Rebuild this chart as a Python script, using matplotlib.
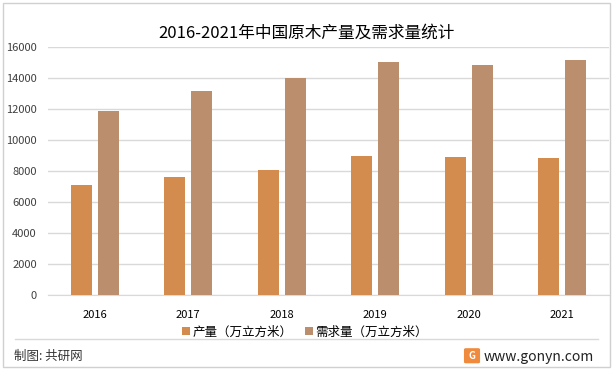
import matplotlib.pyplot as plt
import numpy as np
from matplotlib.patches import Rectangle, FancyBboxPatch

plt.rcParams['font.family'] = ['Noto Sans CJK SC', 'DejaVu Sans']

# data
years = ['2016', '2017', '2018', '2019', '2020', '2021']
output = [7100, 7630, 8080, 8990, 8920, 8860]
demand = [11900, 13180, 14000, 15050, 14860, 15180]

fig = plt.figure(figsize=(6.13, 3.70), dpi=100)
ax = fig.add_axes([0.078, 0.2027, 0.9155, 0.6703])

x = np.arange(len(years))
w = 0.225
ax.bar(x - 0.144, output, width=w, color='#D38B4E', label='产量（万立方米）', zorder=3)
ax.bar(x + 0.144, demand, width=w, color='#BB8E6D', label='需求量（万立方米）', zorder=3)

ax.set_xlim(-0.5, len(years) - 0.5)
ax.set_ylim(0, 16000)
ax.set_yticks(range(0, 16001, 2000))
ax.set_xticks(x)
ax.set_xticklabels(years)
ax.grid(axis='y', color='#D9D9D9', linewidth=1, zorder=0)
for s in ['top', 'right', 'left']:
    ax.spines[s].set_visible(False)
ax.spines['bottom'].set_color('#D9D9D9')
ax.tick_params(axis='both', length=0, labelsize=8, colors='#404040')
ax.tick_params(axis='y', pad=8)
ax.tick_params(axis='x', pad=11)
for t in ax.get_xticklabels():
    t.set_color('black')

leg = ax.legend(loc='center', bbox_to_anchor=(0.458, -0.149), ncol=2, frameon=False,
                fontsize=9, handlelength=0.65, handleheight=0.65, handletextpad=0.2,
                columnspacing=1.0)

fig.text(0.5, 0.91, '2016-2021年中国原木产量及需求量统计', ha='center', va='center',
         fontsize=12, color='black', fontweight='light')

# frame and footer
fig.add_artist(Rectangle((0.005, 0.008), 0.99, 0.985, transform=fig.transFigure,
                         fill=False, edgecolor='#D0D0D0', linewidth=1))
fig.add_artist(plt.Line2D([0.024, 0.975], [0.084, 0.084], transform=fig.transFigure,
                          color='#D9D9D9', linewidth=1))
fig.text(0.023, 0.036, '制图: 共研网', ha='left', va='center', fontsize=9, color='#333333',
         fontweight='medium')
fig.add_artist(FancyBboxPatch((0.760, 0.022), 0.020, 0.033, boxstyle='round,pad=0.002',
                              transform=fig.transFigure, color='#F08A3C'))
fig.text(0.770, 0.038, 'G', ha='center', va='center', fontsize=7, color='white',
         fontweight='bold')
fig.text(0.969, 0.036, 'www.gonyn.com', ha='right', va='center', fontsize=10, color='#222222')

fig.savefig('out.png', dpi=100)
